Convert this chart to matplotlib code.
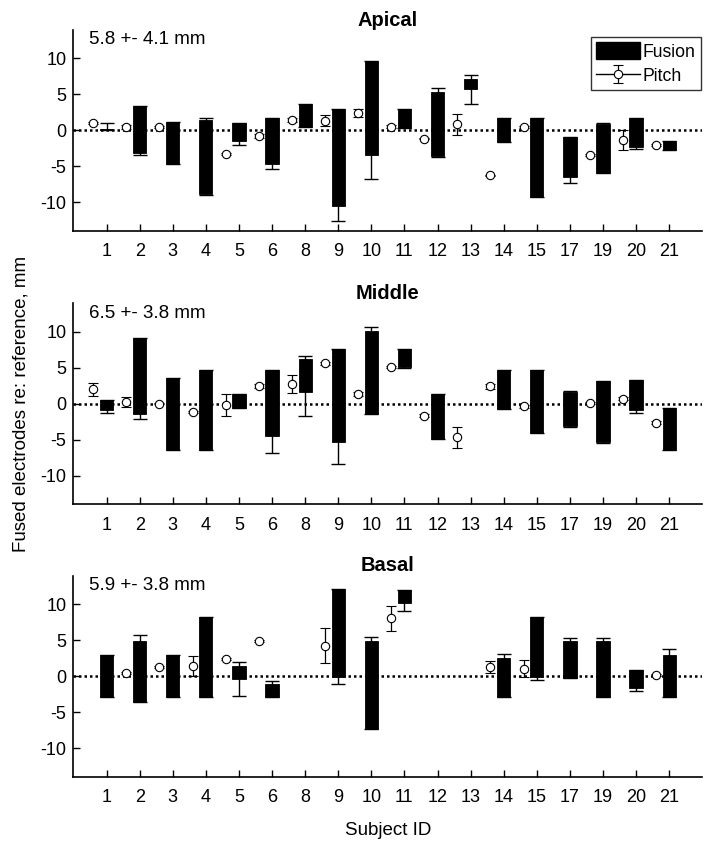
import numpy as np
import matplotlib
matplotlib.use('Agg')
import matplotlib.pyplot as plt
from matplotlib.patches import Patch

plt.rcParams['font.family'] = ['Liberation Sans', 'DejaVu Sans']
plt.rcParams['axes.unicode_minus'] = False

nan = np.nan

subjects = ['1', '2', '3', '4', '5', '6', '8', '9', '10', '11', '12', '13',
            '14', '15', '17', '19', '20', '21']

# Apical
apical_pitch = [0.97, 0.5, 0.5, nan, -3.33, -0.74, 1.43, 1.3, 2.4, 0.5, -1.16, 0.88,
                -6.25, 0.46, nan, -3.47, -1.4, -2.08]
apical_pitch_lo = [0.85, 0.25, 0.35, nan, -3.45, -1.0, 1.2, 0.6, 1.9, 0.3, -1.25, -0.6,
                   -6.35, 0.3, nan, -3.6, -2.8, -2.25]
apical_pitch_hi = [1.1, 0.75, 0.65, nan, -3.2, -0.45, 1.65, 2.08, 2.9, 0.7, -1.05, 2.27,
                   -6.15, 0.6, nan, -3.3, 0.0, -1.9]
apical_fus_lo = [0, -3.2, -4.7, -8.9, -1.53, -4.7, 0.46, -10.55, -3.38, 0.37, -3.56, 5.7,
                 -1.57, -9.3, -6.5, -5.9, -2.27, -2.73]
apical_fus_hi = [0.15, 3.4, 1.15, 1.4, 1.07, 1.67, 3.6, 3.0, 9.58, 3.0, 5.3, 7.2,
                 1.67, 1.67, -0.93, 0.93, 1.67, -1.48]
apical_err_lo = [0, -3.4, -4.7, -9.0, -2.1, -5.4, 0.46, -12.6, -6.8, 0.37, -3.75, 3.7,
                 -1.57, -9.3, -7.27, -5.9, -2.6, -2.73]
apical_err_hi = [1.0, 3.4, 1.15, 1.7, 1.07, 1.67, 3.6, 3.0, 9.58, 3.0, 5.9, 7.7,
                 1.67, 1.67, -0.88, 1.0, 1.67, -1.48]

# Middle
middle_pitch = [2.04, 0.19, 0.0, -1.1, -0.14, 2.5, 2.78, 5.6, 1.34, 5.1, -1.71, -4.68,
                2.4, -0.37, nan, 0.14, 0.7, -2.64]
middle_pitch_lo = [1.06, -0.46, -0.05, -1.25, -1.76, 2.2, 1.53, 5.45, 1.05, 4.95, -1.9, -6.1,
                   2.05, -0.55, nan, 0.0, 0.5, -2.8]
middle_pitch_hi = [2.87, 0.93, 0.05, -0.95, 1.34, 2.8, 3.93, 5.75, 1.65, 5.25, -1.5, -3.24,
                   2.75, -0.2, nan, 0.3, 0.9, -2.45]
middle_fus_lo = [-0.83, -1.48, -6.4, -6.4, -0.55, -4.44, 1.67, -5.37, -1.48, 5.1, -4.9, nan,
                 -0.74, -4.03, -3.1, -5.28, -0.83, -6.4]
middle_fus_hi = [0.46, 9.17, 3.6, 4.63, 1.34, 4.63, 6.16, 7.55, 10.1, 7.55, 1.39, nan,
                 4.63, 4.63, 1.57, 3.2, 3.33, -0.55]
middle_err_lo = [-1.25, -2.08, -6.4, -6.4, -0.6, -6.9, -1.71, -8.43, -1.48, 4.9, -4.9, nan,
                 -0.74, -4.03, -3.24, -5.46, -1.3, -6.4]
middle_err_hi = [0.46, 9.17, 3.6, 4.63, 1.34, 4.63, 6.67, 7.55, 10.65, 7.55, 1.39, nan,
                 4.63, 4.63, 1.76, 3.2, 3.33, -0.55]

# Basal
basal_pitch = [nan, 0.42, 1.25, 1.48, 2.4, 4.86, nan, 4.26, nan, 8.06, nan, nan,
               1.34, 1.02, nan, nan, nan, 0.19]
basal_pitch_lo = [nan, 0.3, 1.1, 0.0, 2.25, 4.7, nan, 1.8, nan, 6.34, nan, nan,
                  0.5, -0.14, nan, nan, nan, 0.05]
basal_pitch_hi = [nan, 0.55, 1.4, 2.78, 2.55, 5.0, nan, 6.67, nan, 9.72, nan, nan,
                  2.13, 2.27, nan, nan, nan, 0.35]
basal_fus_lo = [-2.9, -3.56, -2.9, -2.9, -0.37, -2.9, nan, -0.14, -7.36, 10.19, nan, nan,
                -2.9, -0.14, -0.28, -2.9, -1.67, -2.9]
basal_fus_hi = [3.0, 4.9, 3.0, 8.24, 1.48, -1.02, nan, 12.08, 4.86, 12.04, nan, nan,
                2.55, 8.24, 4.95, 4.95, 0.88, 2.92]
basal_err_lo = [-2.9, -3.56, -2.9, -2.9, -2.69, -2.9, nan, -1.11, -7.36, 9.03, nan, nan,
                -2.9, -0.46, -0.28, -2.9, -1.99, -2.9]
basal_err_hi = [3.0, 5.74, 3.0, 8.24, 1.94, -0.6, nan, 12.08, 5.42, 12.04, nan, nan,
                3.1, 8.24, 5.32, 5.32, 0.88, 3.8]

panels = [
    ('Apical', '5.8 +- 4.1 mm', apical_pitch, apical_pitch_lo, apical_pitch_hi,
     apical_fus_lo, apical_fus_hi, apical_err_lo, apical_err_hi),
    ('Middle', '6.5 +- 3.8 mm', middle_pitch, middle_pitch_lo, middle_pitch_hi,
     middle_fus_lo, middle_fus_hi, middle_err_lo, middle_err_hi),
    ('Basal', '5.9 +- 3.8 mm', basal_pitch, basal_pitch_lo, basal_pitch_hi,
     basal_fus_lo, basal_fus_hi, basal_err_lo, basal_err_hi),
]

fig = plt.figure(figsize=(7.13, 8.49), dpi=100)
bottoms = [0.728, 0.406, 0.085]
x = np.arange(1, len(subjects) + 1)
bar_w = 0.4
p_off = -0.4

for (title, note, p, plo, phi, flo, fhi, elo, ehi), b in zip(panels, bottoms):
    ax = fig.add_axes([0.103, b, 0.882, 0.237])
    p, plo, phi = np.array(p), np.array(plo), np.array(phi)
    flo, fhi, elo, ehi = np.array(flo), np.array(fhi), np.array(elo), np.array(ehi)

    ax.axhline(0, color='black', linestyle=(0, (1, 1.2)), lw=1.8, zorder=1)

    # fusion: floating bars with whiskers
    m = ~np.isnan(flo)
    mid = (flo[m] + fhi[m]) / 2
    ax.errorbar(x[m], mid, yerr=[mid - elo[m], ehi[m] - mid], fmt='none',
                ecolor='black', elinewidth=1.0, capsize=4.8, capthick=1.0, zorder=2)
    ax.bar(x[m], fhi[m] - flo[m], bottom=flo[m], width=bar_w, color='black',
           edgecolor='black', lw=0.6, zorder=3)

    # pitch: open circles with error bars
    m = ~np.isnan(p)
    ax.errorbar(x[m] + p_off, p[m], yerr=[p[m] - plo[m], phi[m] - p[m]], fmt='o',
                color='black', mfc='white', ms=6, mew=0.8, elinewidth=0.9,
                capsize=3.6, capthick=0.9, zorder=4)

    ax.set_xlim(0, 19)
    ax.set_ylim(-14, 14)
    ax.set_yticks([-10, -5, 0, 5, 10])
    ax.set_xticks(x)
    ax.set_xticklabels(subjects)
    ax.tick_params(direction='in', length=5, width=1, labelsize=13, pad=9)
    ax.tick_params(axis='y', pad=5)
    for s in ['top', 'right']:
        ax.spines[s].set_visible(False)
    for s in ['left', 'bottom']:
        ax.spines[s].set_linewidth(1.2)
    ax.set_title(title, fontsize=14.5, fontweight='bold', pad=3)
    ax.text(0.025, 0.95, note, transform=ax.transAxes, fontsize=13.5,
            ha='left', va='center')

    if title == 'Apical':
        h_f = Patch(facecolor='black', edgecolor='black')
        h_p = ax.errorbar([nan], [nan], yerr=[1], fmt='o-', color='black', mfc='white',
                          ms=6, mew=0.8, elinewidth=0.9, capsize=3.6, lw=1)
        ax.legend([h_f, h_p], ['Fusion', 'Pitch'], loc='upper right',
                  bbox_to_anchor=(0.998, 0.965), fontsize=12.7, frameon=True,
                  fancybox=False, edgecolor='black', handlelength=2.5,
                  handleheight=1.1, borderpad=0.3, labelspacing=0.35,
                  handletextpad=0.15, borderaxespad=0.0)
    if title == 'Middle':
        ax.set_ylabel('Fused electrodes re: reference, mm', fontsize=13.5, labelpad=8)
    if title == 'Basal':
        ax.set_xlabel('Subject ID', fontsize=13.5, labelpad=11)

fig.savefig('out.png', dpi=100)
